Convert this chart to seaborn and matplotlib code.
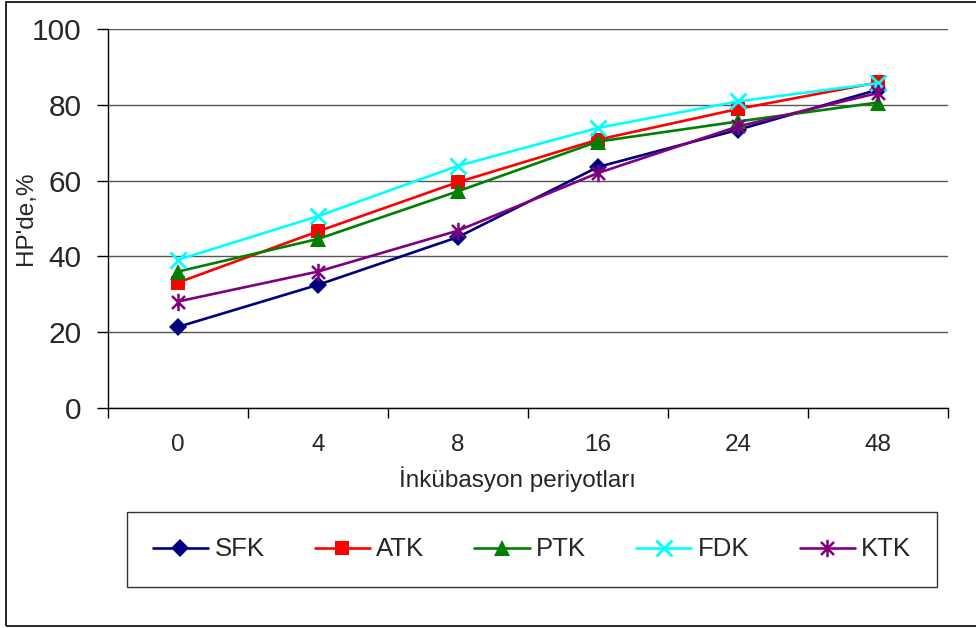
import matplotlib
matplotlib.use("Agg")
import matplotlib.pyplot as plt
import seaborn as sns
import pandas as pd
from matplotlib.path import Path
from matplotlib.patches import Rectangle

periods = ["0", "4", "8", "16", "24", "48"]
SFK = [21.4, 32.5, 45.1, 63.6, 73.4, 84.0]
ATK = [33.1, 46.6, 59.6, 70.8, 78.9, 85.9]
PTK = [36.0, 44.6, 57.2, 70.3, 75.6, 80.6]
FDK = [39.1, 50.6, 63.9, 73.9, 80.9, 85.7]
KTK = [28.1, 36.0, 46.8, 62.0, 74.3, 83.1]
series_names = ["SFK", "ATK", "PTK", "FDK", "KTK"]
series_values = [SFK, ATK, PTK, FDK, KTK]
y_ticks = [0, 20, 40, 60, 80, 100]

sns.set_theme(style="white")
plt.rcParams["font.family"] = ["Liberation Sans", "DejaVu Sans"]

asterisk = Path(
    [(0, -1), (0, 1), (-0.75, -0.75), (0.75, 0.75), (-0.75, 0.75), (0.75, -0.75)],
    [Path.MOVETO, Path.LINETO, Path.MOVETO, Path.LINETO, Path.MOVETO, Path.LINETO],
)
styles = {
    "SFK": dict(color="#000080", marker="D", ms=9.5, mew=0),
    "ATK": dict(color="#FF0000", marker="s", ms=10.5, mew=0),
    "PTK": dict(color="#008000", marker="^", ms=11.5, mew=0),
    "FDK": dict(color="#00FFFF", marker="x", ms=11, mew=2),
    "KTK": dict(color="#800080", marker=asterisk, ms=12.5, mew=1.8),
}

fig = plt.figure(figsize=(9.76, 6.28), dpi=100)
ax = fig.add_axes([108 / 976, 1 - 408 / 628, (948 - 108) / 976, (408 - 29) / 628])

for name, vals in zip(series_names, series_values):
    st = styles[name]
    df = pd.DataFrame({"period": periods, "value": vals})
    sns.lineplot(data=df, x="period", y="value", ax=ax, color=st["color"],
                 marker=st["marker"], markersize=st["ms"], markeredgewidth=st["mew"],
                 markeredgecolor=st["color"], linewidth=1.9, label=name, sort=False)

ax.set_xlim(-0.5, 5.5)
ax.set_ylim(0, 100)
ax.set_yticks(y_ticks)
ax.set_yticklabels([str(t) for t in y_ticks], fontsize=21.5)
ax.set_xticks(range(len(periods)))
ax.set_xticklabels(periods, fontsize=17.5)
ax.set_xticks([i - 0.5 for i in range(len(periods) + 1)], minor=True)
ax.tick_params(axis="x", which="major", length=0, pad=19)
ax.tick_params(axis="x", which="minor", length=7, width=1, color="black", direction="out", bottom=True)
ax.tick_params(axis="y", which="major", length=8, width=1, color="black", direction="out", left=True, pad=11)
ax.grid(axis="y", color="#555555", linewidth=1)
ax.set_axisbelow(True)
for s in ["top", "right"]:
    ax.spines[s].set_visible(False)
for s in ["left", "bottom"]:
    ax.spines[s].set_color("black")
    ax.spines[s].set_linewidth(1)
ax.set_xlabel("İnkübasyon periyotları", fontsize=17.5)
ax.set_ylabel("HP'de,%", fontsize=17.5)
ax.yaxis.set_label_coords((26 - 108) / 840, 0.5)
ax.yaxis.label.set_va("center")
ax.xaxis.set_label_coords((517 - 108) / 840, -(466 - 408) / 379)
ax.xaxis.label.set_va("top")

ax.get_legend().remove()
handles, labels = ax.get_legend_handles_labels()
leg = fig.legend(handles, labels, loc="center", bbox_to_anchor=(532 / 976, 1 - 549.5 / 628),
                 ncol=5, fontsize=18.5, frameon=True, fancybox=False, edgecolor="black",
                 handlelength=2.15, handletextpad=0.25, columnspacing=1.95, borderpad=1.0)
leg.get_frame().set_linewidth(1)

fig.patches.append(Rectangle((6 / 976, 2 / 628), 1.0, 624 / 628, transform=fig.transFigure,
                             fill=False, edgecolor="black", linewidth=1.2))

fig.savefig("out.png", dpi=100, facecolor="white")
